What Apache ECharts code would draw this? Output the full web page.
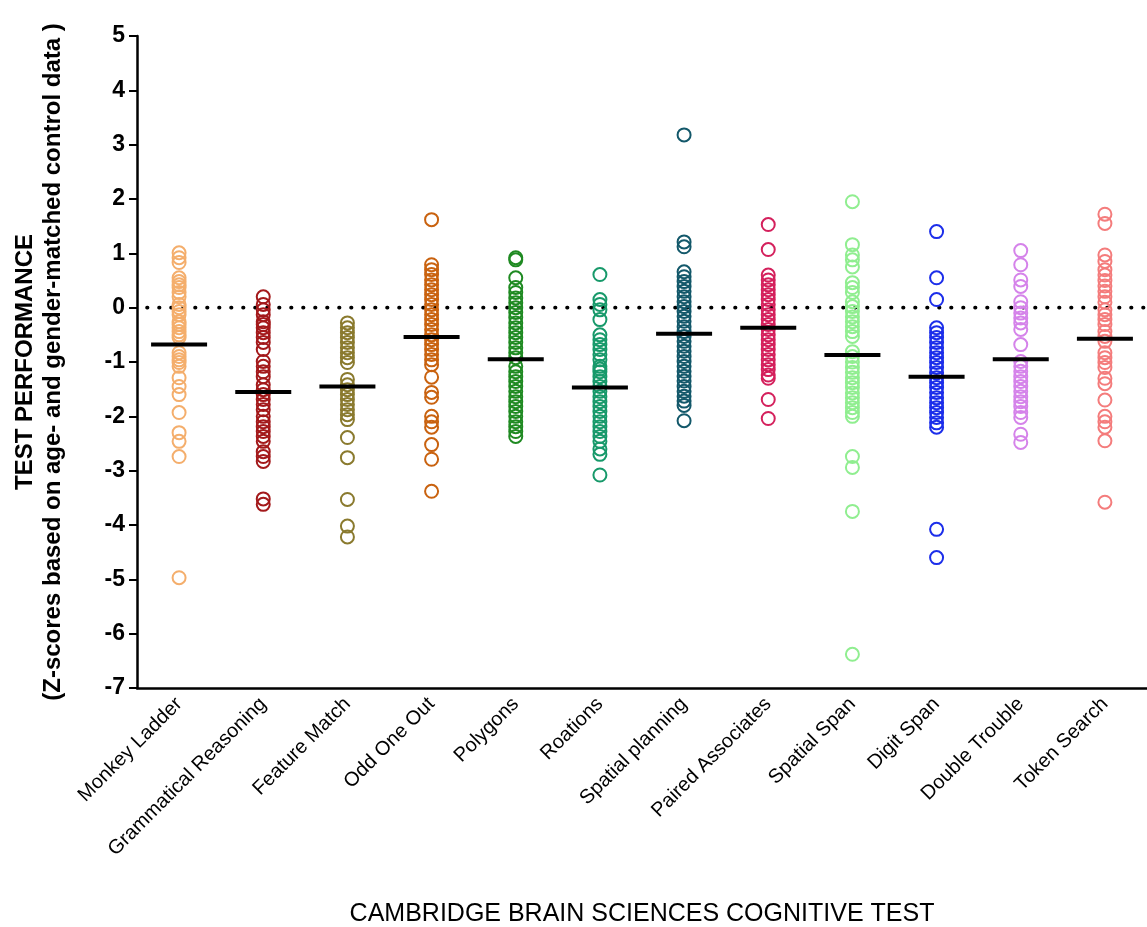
<!DOCTYPE html>
<html>
<head>
<meta charset="utf-8">
<script src="https://cdn.jsdelivr.net/npm/echarts@6/dist/echarts.min.js"></script>
<style>
  html, body { margin: 0; padding: 0; background: #fff; }
  #chart { width: 1147px; height: 927px; }
</style>
</head>
<body>
<div id="chart"></div>
<script>
// Test names along the x axis
const tests = ['Monkey Ladder', 'Grammatical Reasoning', 'Feature Match', 'Odd One Out',
  'Polygons', 'Roations', 'Spatial planning', 'Paired Associates', 'Spatial Span',
  'Digit Span', 'Double Trouble', 'Token Search'];

// Z-scores per test
const monkeyLadder = [1.01, 0.92, 0.83, 0.55, 0.48, 0.42, 0.37, 0.28, 0.2, 0.06, 0, -0.07, -0.13, -0.26, -0.31, -0.37, -0.44, -0.5, -0.55, -0.83, -0.9, -0.96, -1.01, -1.08, -1.29, -1.45, -1.6, -1.93, -2.3, -2.46, -2.74, -4.97];
const grammaticalReasoning = [0.2, 0.06, -0.04, -0.13, -0.26, -0.31, -0.37, -0.46, -0.55, -0.64, -0.77, -0.99, -1.08, -1.18, -1.27, -1.42, -1.51, -1.6, -1.69, -1.78, -1.88, -2.0, -2.1, -2.19, -2.28, -2.37, -2.46, -2.65, -2.74, -2.83, -3.52, -3.62];
const featureMatch = [-0.28, -0.37, -0.46, -0.55, -0.64, -0.74, -0.83, -0.92, -1.01, -1.32, -1.42, -1.51, -1.6, -1.69, -1.78, -1.88, -1.97, -2.06, -2.39, -2.76, -3.53, -4.02, -4.22];
const oddOneOut = [1.62, 0.79, 0.7, 0.61, 0.51, 0.42, 0.33, 0.24, 0.15, 0.06, -0.04, -0.13, -0.22, -0.31, -0.4, -0.5, -0.59, -0.68, -0.77, -0.86, -0.96, -1.05, -1.28, -1.56, -1.65, -2.0, -2.1, -2.2, -2.52, -2.79, -3.38];
const polygons = [0.92, 0.88, 0.55, 0.37, 0.28, 0.18, 0.09, 0, -0.09, -0.18, -0.28, -0.37, -0.46, -0.55, -0.64, -0.74, -0.83, -0.92, -1.08, -1.18, -1.27, -1.36, -1.45, -1.54, -1.64, -1.73, -1.82, -1.91, -2.0, -2.1, -2.19, -2.28, -2.37];
const roations = [0.61, 0.15, 0.06, -0.04, -0.22, -0.5, -0.59, -0.68, -0.77, -0.86, -0.96, -1.08, -1.13, -1.18, -1.27, -1.36, -1.45, -1.54, -1.64, -1.73, -1.82, -1.91, -2.0, -2.1, -2.19, -2.28, -2.37, -2.46, -2.6, -2.7, -3.08];
const spatialPlanning = [3.18, 1.21, 1.12, 0.66, 0.57, 0.48, 0.39, 0.3, 0.2, 0.11, 0.02, -0.07, -0.16, -0.25, -0.35, -0.44, -0.53, -0.62, -0.71, -0.8, -0.9, -0.99, -1.08, -1.17, -1.26, -1.35, -1.45, -1.54, -1.63, -1.72, -1.8, -2.08];
const pairedAssociates = [1.53, 1.07, 0.6, 0.51, 0.42, 0.33, 0.24, 0.15, 0.06, -0.04, -0.13, -0.22, -0.31, -0.4, -0.5, -0.59, -0.68, -0.77, -0.86, -0.96, -1.05, -1.14, -1.24, -1.3, -1.69, -2.04];
const spatialSpan = [1.95, 1.16, 0.97, 0.88, 0.75, 0.46, 0.37, 0.28, 0.11, 0.02, -0.07, -0.17, -0.26, -0.35, -0.44, -0.53, -0.81, -0.9, -1.0, -1.1, -1.19, -1.29, -1.38, -1.47, -1.57, -1.66, -1.75, -1.84, -1.93, -2.0, -2.74, -2.94, -3.75, -6.38];
const digitSpan = [1.4, 0.55, 0.15, -0.37, -0.46, -0.55, -0.64, -0.74, -0.83, -0.92, -1.01, -1.1, -1.2, -1.29, -1.38, -1.47, -1.56, -1.66, -1.75, -1.84, -1.93, -2.02, -2.12, -2.2, -4.08, -4.6];
const doubleTrouble = [1.05, 0.79, 0.51, 0.39, 0.11, 0, -0.1, -0.19, -0.28, -0.4, -0.68, -0.99, -1.08, -1.17, -1.27, -1.36, -1.45, -1.54, -1.64, -1.73, -1.82, -1.93, -2.02, -2.33, -2.48];
const tokenSearch = [1.72, 1.55, 0.97, 0.85, 0.7, 0.6, 0.5, 0.4, 0.3, 0.2, 0.1, -0.04, -0.13, -0.22, -0.31, -0.44, -0.53, -0.62, -0.83, -0.92, -1.01, -1.1, -1.3, -1.4, -1.7, -2.0, -2.1, -2.2, -2.45, -3.58];

// Median line per test
const medians = [-0.68, -1.55, -1.45, -0.54, -0.95, -1.47, -0.48, -0.37, -0.87, -1.27, -0.95, -0.57];

// Reference level (z = 0)
const zeroLevel = 0;

const yTicks = [5, 4, 3, 2, 1, 0, -1, -2, -3, -4, -5, -6, -7];

const scores = [monkeyLadder, grammaticalReasoning, featureMatch, oddOneOut, polygons,
  roations, spatialPlanning, pairedAssociates, spatialSpan, digitSpan, doubleTrouble, tokenSearch];

const palette = ['#F4AE6C', '#A3191B', '#8A7A2E', '#C9620F', '#1F8A22', '#17996A',
  '#13586A', '#D4205C', '#90EE90', '#1C2EEA', '#D583EA', '#F47C7C'];

const FONT = '"Liberation Sans", Arial, sans-serif';

const pointSeries = scores.map((vals, i) => ({
  type: 'scatter',
  name: tests[i],
  symbol: 'circle',
  symbolSize: 13,
  itemStyle: { color: 'rgba(0,0,0,0)', borderColor: palette[i], borderWidth: 2, opacity: 1 },
  data: vals.map(v => [i, v]),
  z: 3
}));

// Dotted horizontal line across the whole plot at the given level
function renderZeroLine(params, api) {
  const cs = params.coordSys;
  const y = api.coord([0, api.value(1)])[1];
  return {
    type: 'line',
    shape: { x1: cs.x + 10, y1: y, x2: cs.x + cs.width, y2: y },
    style: { stroke: '#000', lineWidth: 3.6, lineDash: [0.6, 11.4], lineCap: 'round' },
    silent: true
  };
}

const chart = echarts.init(document.getElementById('chart'), null, { renderer: 'canvas' });
chart.setOption({
  animation: false,
  backgroundColor: '#fff',
  grid: { left: 137, right: 0, top: 36, bottom: 239, containLabel: false, outerBoundsMode: 'none' },
  xAxis: {
    type: 'category',
    data: tests,
    boundaryGap: true,
    axisLine: { onZero: false, lineStyle: { color: '#000', width: 2.5 } },
    axisTick: { alignWithLabel: true, length: 8, lineStyle: { color: '#000', width: 2 } },
    axisLabel: { rotate: 45, fontSize: 20, color: '#000', fontFamily: FONT, margin: 13, interval: 0 },
    splitLine: { show: false },
    name: 'CAMBRIDGE BRAIN SCIENCES COGNITIVE TEST',
    nameLocation: 'middle',
    nameGap: 214,
    nameTextStyle: { fontSize: 25, color: '#000', fontFamily: FONT }
  },
  yAxis: {
    type: 'value',
    min: yTicks[yTicks.length - 1],
    max: yTicks[0],
    interval: 1,
    splitLine: { show: false },
    axisLine: { show: true, onZero: false, lineStyle: { color: '#000', width: 2.5 } },
    axisTick: { show: true, length: 8, lineStyle: { color: '#000', width: 2 } },
    axisLabel: { fontSize: 23, fontWeight: 'bold', color: '#000', fontFamily: FONT, margin: 12 },
    name: 'TEST PERFORMANCE\n(Z-scores based on age- and gender-matched control data )',
    nameLocation: 'middle',
    nameGap: 70,
    nameTextStyle: { fontSize: 24, fontWeight: 'bold', color: '#000', fontFamily: FONT, lineHeight: 28, align: 'center' }
  },
  series: [{
    type: 'custom',
    name: 'zero',
    renderItem: renderZeroLine,
    data: [[0, zeroLevel]],
    silent: true,
    clip: false,
    z: 2
  }].concat(pointSeries, [{
    type: 'scatter',
    name: 'median',
    symbol: 'rect',
    symbolSize: [56, 4],
    itemStyle: { color: '#000', opacity: 1 },
    data: medians.map((m, i) => [i, m]),
    z: 5
  }])
});
</script>
</body>
</html>
